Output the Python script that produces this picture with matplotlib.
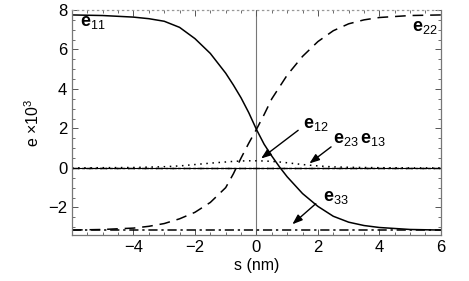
import numpy as np
import matplotlib.pyplot as plt
from matplotlib.ticker import MultipleLocator

plt.rcParams['font.family'] = ['Liberation Sans', 'DejaVu Sans']
plt.rcParams['mathtext.fontset'] = 'custom'
plt.rcParams['mathtext.rm'] = 'Liberation Sans'
plt.rcParams['mathtext.bf'] = 'Liberation Sans:bold'

# strain components (x 10^3)
s = [-6, -5, -4, -3.5, -3, -2.5, -2, -1.5, -1, -0.75, -0.5, -0.25, 0,
     0.25, 0.5, 0.75, 1, 1.5, 2, 2.5, 3, 3.5, 4, 5, 6]
e11 = [7.75, 7.72, 7.64, 7.56, 7.43, 7.12, 6.55, 5.8, 4.8, 4.2, 3.55, 2.8, 1.95,
       1.2, 0.6, 0.05, -0.45, -1.3, -1.95, -2.45, -2.75, -2.92, -3.02, -3.12, -3.15]
e22 = [-3.15, -3.12, -3.05, -2.96, -2.82, -2.58, -2.25, -1.75, -1.0, -0.3, 0.5, 1.25, 1.95,
       2.7, 3.5, 4.1, 4.7, 5.65, 6.4, 6.95, 7.3, 7.5, 7.62, 7.72, 7.75]
e12 = [0.0, 0.01, 0.02, 0.04, 0.06, 0.1, 0.17, 0.24, 0.3, 0.33, 0.35, 0.36, 0.36,
       0.35, 0.33, 0.3, 0.26, 0.17, 0.1, 0.05, 0.03, 0.02, 0.01, 0.0, 0.0]
e13 = [0.0] * len(s)
e23 = [0.0] * len(s)
e33 = [-3.15] * len(s)

fig = plt.figure(figsize=(4.69, 2.81), dpi=100)
ax = fig.add_axes([0.1535, 0.1637, 0.7865, 0.8007])

ax.axvline(0, color='#777777', lw=0.8, zorder=1)
ax.axhline(0, color='black', lw=0.8, zorder=1)
ax.plot(s, e11, color='black', lw=1.1)
ax.plot(s, e22, color='black', lw=1.1, dashes=(7, 4.5))
ax.plot(s, e12, color='black', lw=1.1, dashes=(1, 3))
ax.plot(s, e13, color='black', lw=1.0, dashes=(5, 2, 1, 2))
ax.plot(s, e23, color='black', lw=1.0, dashes=(1, 3))
ax.plot(s, e33, color='black', lw=1.1, dashes=(6, 2.5, 1.5, 2.5))

ax.set_xlim(-6, 6)
ax.set_ylim(-3.4, 8)
ax.set_xticks([-4, -2, 0, 2, 4, 6])
ax.set_yticks([-2, 0, 2, 4, 6, 8])
ax.set_xticklabels(['\u22124', '\u22122', '0', '2', '4', '6'])
ax.set_yticklabels(['\u22122', '0', '2', '4', '6', '8'])
ax.xaxis.set_minor_locator(MultipleLocator(0.5))
ax.yaxis.set_minor_locator(MultipleLocator(0.5))
ax.tick_params(which='both', direction='in', top=True, right=True,
               color='#555555', labelsize=12)
ax.tick_params(which='major', length=4.5, width=0.7)
ax.tick_params(which='minor', length=2.5, width=0.6)
for sp in ax.spines.values():
    sp.set_color('#777777')
    sp.set_linewidth(0.9)
ax.spines['top'].set_linestyle((0, (1, 3)))
ax.spines['top'].set_color('#999999')

ax.set_xlabel('s (nm)', fontsize=11.5, labelpad=2)
ax.set_ylabel(r'e $\times$10$^3$', fontsize=11.5, labelpad=4)

lab = dict(fontsize=13, color='black')
ax.text(-5.75, 7.35, r'$\mathbf{e}_{11}$', ha='left', va='center', **lab)
ax.text(5.9, 7.1, r'$\mathbf{e}_{22}$', ha='right', va='center', **lab)
ax.text(1.5, 2.2, r'$\mathbf{e}_{12}$', ha='left', va='center', **lab)
ax.text(2.5, 1.45, r'$\mathbf{e}_{23}\,\mathbf{e}_{13}$', ha='left', va='center', **lab)
ax.text(2.15, -1.5, r'$\mathbf{e}_{33}$', ha='left', va='center', **lab)

arr = dict(arrowstyle='-|>,head_length=0.6,head_width=0.22', color='black', lw=1.0)
ax.annotate('', xy=(0.08, 0.39), xytext=(1.43, 1.99), arrowprops=arr)
ax.annotate('', xy=(1.65, 0.14), xytext=(2.5, 1.15), arrowprops=arr)
ax.annotate('', xy=(1.1, -2.95), xytext=(2.0, -1.72), arrowprops=arr)

fig.savefig('out.png', dpi=100)
